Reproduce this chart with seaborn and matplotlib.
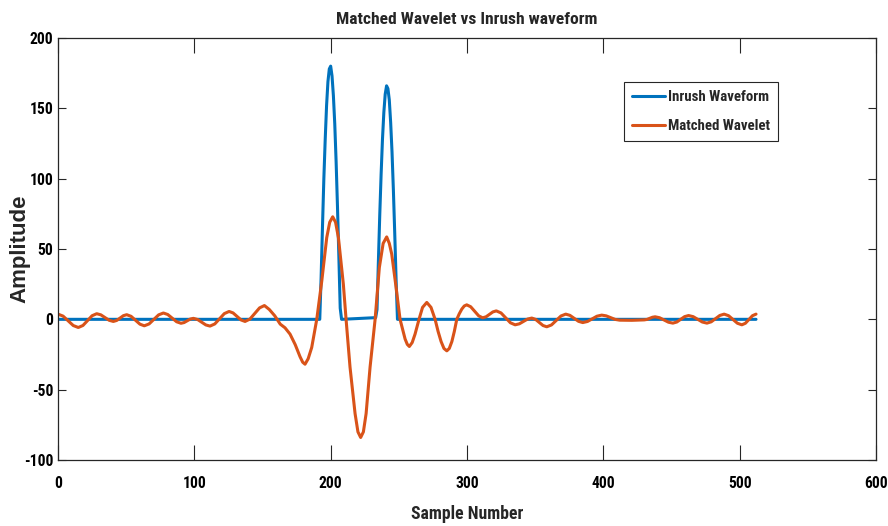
import matplotlib
matplotlib.use("Agg")
import matplotlib.pyplot as plt
from matplotlib import font_manager as fm
import seaborn as sns
import pandas as pd

# ---------------- data ----------------
inrush_x = [0, 192, 193, 194, 195, 196, 197, 198, 199, 200, 201, 202, 203, 204, 205, 206, 207, 208,
            233, 234, 235, 236, 237, 238, 239, 240, 241, 242, 243, 244, 245, 246, 247, 248, 249, 512]
inrush_y = [0, 0, 30, 66, 100, 128, 152, 169, 178, 180, 173, 159, 139, 112, 80, 45, 8, 0,
            1.2, 7, 41, 74, 103, 128, 147, 160, 166, 164, 156, 140, 119, 92, 61, 28, 0, 0]

wavelet_x = [0, 3.7, 7.5, 11.2, 14.9, 18.3, 21.7, 25.0, 28.4, 31.45, 34.5, 37.55, 40.6,
             43.05, 45.5, 47.95, 50.4, 53.6, 56.85, 60.1, 63.3, 66.8, 70.3, 73.8, 77.3,
             80.5, 83.75, 87.0, 90.2, 92.5, 94.75, 97.0, 99.3, 102.35, 105.4, 108.45, 111.5,
             115, 118.5, 122, 125.5, 128.4, 131.35, 134.3, 137.2, 140.75, 144.3, 147.85, 151.4,
             155, 159, 163, 166.5, 170.2, 174, 177.5, 179.5, 181.2, 183.5, 186.1, 189.8, 193.5,
             197.1, 199.3, 201.5, 203.6, 205.7, 209.3, 211.3, 214.2, 217.9, 220, 222, 224, 226,
             228.9, 232.6, 235.7, 238.5, 241.1, 243, 244.8, 248, 250.9, 254.6, 256.2, 257.7,
             259.8, 261.9, 264.8, 267.4, 270.5, 273.6, 276.6, 278.8, 281, 283.1, 285.2, 287,
             288.9, 290.7, 292.5, 294.3, 296.2, 298, 299.8, 302.7, 305.65, 308.6, 311.5, 314,
             316.5, 319, 321.5, 324.95, 328.4, 331.85, 335.3, 338.35, 341.4, 344.45, 347.5,
             350.25, 353, 355.75, 358.5, 361.98, 365.45, 368.93, 372.4, 375.5, 378.65, 381.8,
             384.9, 388.4, 391.85, 395.3, 398.8, 402.1, 405.4, 408.7, 412, 421, 430, 432, 434,
             436, 438, 441.25, 444.5, 447.75, 451, 453.9, 456.75, 459.6, 462.5, 465.9, 469.25,
             472.6, 476, 479.15, 482.3, 485.45, 488.6, 491.85, 495.1, 498.35, 501.6, 504.2,
             506.8, 509.4, 512]
wavelet_y = [3.7, 2.31, -1.05, -4.41, -5.8, -4.36, -0.9, 2.56, 4.0, 3.19, 1.25, -0.69, -1.5,
             -0.8, 0.9, 2.6, 3.3, 2.14, -0.65, -3.44, -4.6, -3.27, -0.05, 3.17, 4.5,
             3.43, 0.85, -1.73, -2.8, -2.29, -1.05, 0.19, 0.7, -0.11, -2.05, -3.99, -4.8,
             -3.28, 0.4, 4.08, 5.6, 4.56, 2.05, -0.46, -1.5, 0.16, 4.15, 8.14, 9.8,
             7, 2.5, -3.4, -6, -10.5, -18, -26.5, -30.5, -31.9, -28, -20, 0, 27.4,
             58, 69, 72.9, 69, 58, 25, 0, -34, -67, -80, -84, -80, -67,
             -34, 0, 36.8, 54, 58.6, 54, 46.3, 22.6, 0, -14, -17.8, -19.3,
             -16.5, -10.5, 0, 8.5, 12, 8.5, 0, -8.6, -15.8, -20.7, -22.4, -20.7,
             -15.8, -8.6, 0, 3.9, 7.3, 9.5, 10.3, 8.95, 5.7, 2.45, 1.1, 1.82,
             3.55, 5.28, 6, 4.55, 1.05, -2.45, -3.9, -3.2, -1.5, 0.2, 0.9,
             -0.01, -2.2, -4.39, -5.3, -3.98, -0.8, 2.38, 3.7, 2.82, 0.7, -1.42,
             -2.3, -1.52, 0.35, 2.22, 3.0, 2.47, 1.2, -0.07, -0.6, -0.7, -0.4, -0.08, 0.7,
             1.48, 1.8, 1.14, -0.45, -2.04, -2.7, -1.91, 0, 1.91, 2.7, 1.91, 0,
             -1.91, -2.7, -1.76, 0.5, 2.76, 3.7, 2.59, -0.1, -2.79, -3.9, -2.79,
             -0.1, 2.59, 3.7]

x_ticks = [0, 100, 200, 300, 400, 500, 600]
y_ticks = [-100, -50, 0, 50, 100, 150, 200]
series_names = ["Inrush Waveform", "Matched Wavelet"]
title_text = "Matched Wavelet vs Inrush waveform"
xlabel_text = "Sample Number"
ylabel_text = "Amplitude"


# ---------------- fonts ----------------
def _bold_families():
    out = set()
    for f in fm.fontManager.ttflist:
        w = f.weight
        if isinstance(w, str):
            ok = w.lower() in ("bold", "heavy", "black", "extra bold", "semibold", "demibold", "demi")
        else:
            ok = w >= 600
        if ok:
            out.add(f.name)
    return out


_bold = _bold_families()


def pick(cands, default="DejaVu Sans"):
    for c in cands:
        if c in _bold:
            return c
    return default


NARROW = pick(["Liberation Sans Narrow", "Arial Narrow", "Roboto Condensed", "PT Sans Narrow",
               "Fira Sans Condensed", "Encode Sans Condensed", "IBM Plex Sans Condensed",
               "Archivo Narrow", "Liberation Sans"])
WIDE = pick(["Liberation Sans", "Arimo", "Arial", "DejaVu Sans"])

# ---------------- style ----------------
sns.set_style("ticks")
plt.rcParams['font.family'] = [NARROW, 'DejaVu Sans']
plt.rcParams['font.weight'] = 'bold'

blue = "#0072BD"
orange = "#D95319"
edge = "#262626"

W, H = 888, 526
fig = plt.figure(figsize=(W / 100, H / 100), dpi=100)
ax_l, ax_r, ax_t, ax_b = 58, 876, 38, 460
ax = fig.add_axes([ax_l / W, 1 - ax_b / H, (ax_r - ax_l) / W, (ax_b - ax_t) / H])

df_in = pd.DataFrame({"x": inrush_x, "y": inrush_y})
df_wv = pd.DataFrame({"x": wavelet_x, "y": wavelet_y})

sns.lineplot(data=df_in, x="x", y="y", ax=ax, color=blue, linewidth=2.2,
             label=series_names[0], estimator=None)
sns.lineplot(data=df_wv, x="x", y="y", ax=ax, color=orange, linewidth=2.2,
             label=series_names[1], estimator=None)

ax.set_xlim(0, 600)
ax.set_ylim(-100, 200)
ax.set_xticks(x_ticks)
ax.set_yticks(y_ticks)

for s in ax.spines.values():
    s.set_visible(True)
    s.set_color(edge)
    s.set_linewidth(0.9)

renderer = fig.canvas.get_renderer()


def fitted_size(text, target_px, family, rotate=False, base=12.0):
    t = fig.text(0, 0, text, fontsize=base, fontweight='bold', family=family,
                 rotation=90 if rotate else 0)
    bb = t.get_window_extent(renderer)
    t.remove()
    size = bb.height if rotate else bb.width
    return base * target_px / size


tick_fs = fitted_size("200", 23.5, NARROW)
title_fs = fitted_size(title_text, 262, NARROW)
xlab_fs = fitted_size(xlabel_text, 112, NARROW)
ylab_fs = fitted_size(ylabel_text, 108, WIDE, rotate=True)
leg_fs = fitted_size(series_names[0], 101, NARROW)

ax.set_xticklabels([str(t) for t in x_ticks])
ax.set_yticklabels([str(t) for t in y_ticks])
ax.tick_params(axis='both', labelsize=tick_fs, colors=edge, labelcolor='black',
               direction='in', width=0.8, top=True, right=True)
ax.tick_params(axis='x', length=10.5, pad=11.5)
ax.tick_params(axis='y', length=6, pad=3.5)
for lab in ax.get_xticklabels() + ax.get_yticklabels():
    lab.set_fontweight('bold')
    lab.set_family([NARROW, 'DejaVu Sans'])

# title
ax.set_title(title_text, fontsize=title_fs, fontweight='bold', family=[NARROW, 'DejaVu Sans'],
             y=(ax_b - 20) / (ax_b - ax_t), va='center', pad=0)
# x label
ax.set_xlabel(xlabel_text, fontsize=xlab_fs, fontweight='bold', family=[NARROW, 'DejaVu Sans'])
ax.xaxis.set_label_coords(0.5, (ax_b - 514) / (ax_b - ax_t))
ax.xaxis.label.set_va('center')
# y label
ax.set_ylabel(ylabel_text, fontsize=ylab_fs, fontweight='bold', family=[WIDE, 'DejaVu Sans'])
ax.yaxis.set_label_coords((20 - ax_l) / (ax_r - ax_l), 0.5)
ax.yaxis.label.set_va('center')

# legend
leg_px = leg_fs * 100 / 72
leg = ax.legend(loc='upper left', bbox_to_anchor=(624 / W, 1 - 82 / H),
                bbox_transform=fig.transFigure, frameon=True,
                fancybox=False, edgecolor=edge, framealpha=1,
                prop={'family': [NARROW, 'DejaVu Sans'], 'weight': 'bold', 'size': leg_fs},
                handlelength=33 / leg_px, handletextpad=3 / leg_px,
                borderpad=0.55, borderaxespad=0, labelspacing=1.0)
leg.get_frame().set_linewidth(0.8)
for ln in leg.get_lines():
    ln.set_linewidth(2.2)

fig.savefig("out.png", dpi=100)
